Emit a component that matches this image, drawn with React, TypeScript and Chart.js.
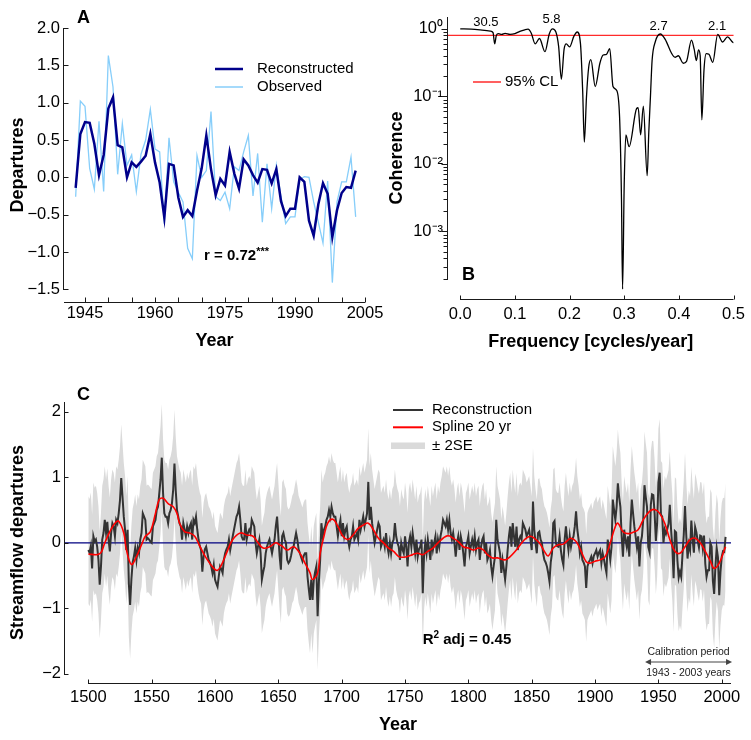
import React, { useEffect, useRef } from 'react';
import { Chart, registerables } from 'chart.js';

Chart.register(...registerables);

const FONT = '"Liberation Sans", Arial, Helvetica, sans-serif';
const AXIS_COLOR = '#1a1a1a';

// ---------------- Panel A: calibration period ----------------
const calibrationStart = 1943;
const calibrationEnd = 2003;
const reconstructed = [
  -0.14, 0.58, 0.74, 0.73, 0.45, 0.03, 0.30, 0.92, 1.07, 0.43,
  0.40, 0.00, 0.20, 0.14, 0.21, 0.29, 0.58, 0.20, -0.07, -0.54,
  0.18, 0.16, -0.27, -0.53, -0.44, -0.52, -0.18, 0.12, 0.56, 0.11,
  -0.24, -0.02, -0.11, 0.34, 0.05, -0.15, 0.24, 0.16, 0.03, -0.07,
  0.11, 0.10, -0.08, 0.11, -0.32, -0.52, -0.42, -0.42, 0.00, -0.06,
  -0.58, -0.78, -0.36, -0.08, -0.22, -0.80, -0.44, -0.21, -0.13, -0.14,
  0.09,
];
const observed = [
  -0.26, 1.02, 0.95, 0.12, -0.16, 0.75, -0.19, 1.63, 1.21, 0.04,
  0.72, 0.16, 0.30, -0.19, 0.31, 0.50, 0.91, 0.38, 0.34, -0.62,
  0.53, -0.06, -0.20, -0.33, -0.95, -1.09, 0.29, 0.00, 0.09, 0.88,
  -0.26, -0.31, -0.20, -0.42, 0.14, 0.09, 0.34, 0.56, -0.25, 0.32,
  -0.60, 0.18, -0.42, 0.16, -0.26, -0.62, -0.53, -0.53, -0.03, 0.01,
  0.00, -0.33, -0.60, -0.88, -0.05, -1.41, -0.33, -0.06, -0.06, 0.27,
  -0.53,
];
const yearTicksA = [1945, 1950, 1955, 1960, 1965, 1970, 1975, 1980, 1985, 1990, 1995, 2000, 2005];
const yearLabelsA = [1945, 1960, 1975, 1990, 2005];
const departureTicks = [-1.5, -1.0, -0.5, 0, 0.5, 1.0, 1.5, 2.0];

// ---------------- Panel B: coherence ----------------
const frequency = [
  0, 0.02, 0.04, 0.055, 0.06, 0.063, 0.066, 0.07, 0.076, 0.082,
  0.091, 0.1, 0.109, 0.118, 0.124, 0.13, 0.137, 0.145, 0.155, 0.163,
  0.169, 0.175, 0.18, 0.185, 0.19, 0.194, 0.2, 0.208, 0.214, 0.22,
  0.224, 0.227, 0.231, 0.235, 0.239, 0.247, 0.2555, 0.2615, 0.2675, 0.2735,
  0.2795, 0.2855, 0.2915, 0.295, 0.297, 0.3, 0.303, 0.309, 0.3226, 0.3255,
  0.33, 0.335, 0.342, 0.345, 0.348, 0.351, 0.357, 0.366, 0.375, 0.387,
  0.393, 0.399, 0.408, 0.414, 0.423, 0.428, 0.432, 0.436, 0.439, 0.442,
  0.446, 0.45, 0.455, 0.462, 0.471, 0.48, 0.489, 0.498, 0.5,
];
const coherence = [
  1.0, 0.99, 0.96, 0.93, 0.88, 0.60, 0.80, 0.85, 0.83, 0.86,
  0.83, 0.85, 0.92, 0.97, 0.99, 0.86, 0.60, 0.72, 0.46, 0.85,
  1.0, 0.90, 0.55, 0.18, 0.50, 0.60, 0.54, 0.78, 0.90, 0.60,
  0.12, 0.021, 0.10, 0.27, 0.35, 0.14, 0.31, 0.41, 0.42, 0.51,
  0.14, 0.125, 0.05, 0.003, 0.00014, 0.005, 0.027, 0.018, 0.066, 0.068,
  0.027, 0.072, 0.0067, 0.03, 0.10, 0.34, 0.65, 0.84, 0.70, 0.43,
  0.38, 0.40, 0.31, 0.33, 0.68, 0.50, 0.34, 0.49, 0.40, 0.045,
  0.25, 0.43, 0.42, 0.32, 0.83, 0.64, 0.76, 0.64, 0.62,
];
const confidence95 = 0.8;
const freqTicks = [0, 0.1, 0.2, 0.3, 0.4, 0.5];
const coherenceDecades = [-3, -2, -1, 0];
const coherenceLowestMinor = 2e-4;
const periodLabels = ['30.5', '5.8', '2.7', '2.1'];
const periodLabelFreq = [0.047, 0.167, 0.363, 0.47];
const periodLabelCoh = [1.26, 1.4, 1.1, 1.1];

// ---------------- Panel C: full reconstruction ----------------
const reconstructionStart = 1500;
const reconstructionEarly = [
  -0.11, -0.15, -0.05, -0.39, 0.10, 0.02, 0.05, -0.06, -0.26, -0.64,
  -0.36, 0.05, 0.15, 0.35, 0.15, 0.32, 0.05, -0.13, 0.15, 0.30,
  0.25, 0.10, 0.35, 0.30, 0.45, 0.65, 0.99, 0.70, 0.40, 0.20,
  -0.11, 0.20, -0.62, -0.95, -0.56, -0.30, -0.21, -0.08, -0.26, -0.08,
  -0.16, 0.05, 0.15, 0.45, 0.40, 0.35, 0.05, 0.07, 0.05, 0.02,
  0.00, 0.25, 0.30, 0.35, 0.50, 0.55, 0.75, 0.96, 1.30, 0.76,
  0.45, 0.40, 0.40, 0.30, 0.45, 0.50, 0.60, 0.81, 1.21, 0.80,
  0.50, 0.40, 0.30, 0.25, 0.05, 0.30, 0.20, 0.10, 0.25, 0.15,
  0.25, 0.30, 0.05, 0.35, 0.30, 0.40, 0.20, 0.05, -0.05, -0.11,
  -0.44, -0.21, -0.10, -0.06, -0.16, -0.26, -0.30, -0.36, -0.46, -0.34,
  -0.56, -0.62, -0.67, -0.51, -0.36, -0.40, -0.46, -0.26, -0.16, -0.10,
  -0.06, 0.05, -0.11, 0.00, 0.10, 0.20, 0.30, 0.40, 0.45, 0.55,
  0.35, 0.10, 0.05, 0.05, 0.30, 0.05, 0.15, 0.20, 0.15, 0.35,
  0.30, 0.25, 0.00, -0.16, -0.05, 0.05, -0.16, -0.56, -0.45, -0.36,
  -0.16, -0.06, 0.00, 0.05, -0.06, -0.16, -0.05, 0.05, 0.25, 0.40,
  0.10, -0.20, -0.41, 0.10, 0.15, 0.05, 0.00, -0.26, -0.31, -0.28,
  -0.20, -0.10, -0.06, 0.05, 0.15, 0.05, -0.10, -0.16, -0.22, -0.28,
  -0.20, -0.16, -0.16, -0.51, -0.70, -0.87, -0.56, -0.87, -0.56, -0.45,
  -0.36, -1.12, -0.60, -0.26, 0.30, 0.10, 0.20, 0.25, 0.35, 0.40,
  0.50, 0.40, 0.55, 0.45, 0.40, 0.40, 0.25, 0.10, 0.25, 0.35,
  0.10, 0.30, 0.10, 0.20, 0.25, 0.05, -0.06, 0.05, 0.10, 0.25,
  0.05, 0.10, 0.15, 0.05, 0.35, 0.20, 0.30, 0.40, 0.25, 0.35,
  0.45, 0.93, 0.35, 0.55, 0.30, 0.15, 0.00, 0.10, 0.20, 0.30,
  0.25, -0.06, 0.00, 0.05, -0.06, 0.15, -0.05, -0.16, 0.00, -0.16,
  0.00, 0.05, 0.30, 0.10, 0.00, -0.06, -0.26, 0.00, -0.10, -0.16,
  0.10, -0.06, -0.36, 0.00, 0.10, -0.06, 0.15, 0.00, -0.16, 0.05,
  -0.21, -0.10, -0.06, 0.05, -0.77, -0.20, 0.00, -0.16, 0.05, -0.10,
  -0.26, 0.05, -0.11, 0.00, 0.10, -0.16, 0.05, -0.06, 0.10, 0.20,
  0.35, 0.30, 0.25, 0.35, 0.20, 0.35, 0.15, 0.05, 0.15, 0.00,
  -0.21, 0.00, 0.10, -0.11, 0.10, 0.00, -0.16, -0.36, -0.06, 0.00,
  0.10, -0.16, -0.05, 0.05, -0.06, 0.10, -0.11, 0.00, 0.05, -0.26,
  -0.06, 0.05, 0.10, -0.16, 0.00, -0.26, -0.20, -0.11, -0.36, -0.51,
  -0.35, -0.21, 0.35, 0.05, -0.05, -0.16, -0.46, -0.26, -0.40, -0.56,
  -0.36, -0.11, 0.10, 0.25, -0.06, 0.30, 0.10, -0.06, 0.25, -0.11,
  0.05, 0.10, 0.05, 0.30, 0.25, 0.20, 0.10, 0.15, 0.20, 0.05,
  -0.11, 0.63, 0.20, 0.00, -0.16, 0.15, 0.17, 0.05, 0.00, -0.16,
  -0.26, -0.30, -0.36, -0.46, -0.59, -0.30, -0.16, 0.30, 0.33, 0.00,
  -0.05, -0.06, 0.10, -0.11, -0.25, -0.34, 0.05, 0.25, 0.05, -0.11,
  0.10, -0.06, 0.05, 0.10, 0.25, 0.48, 0.20, 0.05, -0.16, -0.06,
  -0.26, -0.30, -0.36, -0.69, -0.36, -0.30, -0.26, -0.21, -0.31, -0.20,
  -0.16, -0.11, -0.21, -0.15, -0.11, -0.31, -0.16, -0.25, -0.36, -0.46,
  0.05, -0.10, -0.26, -0.06, 0.66, 0.50, 0.35, 0.55, 0.91, 0.70,
  0.55, 0.10, -0.21, 0.20, 0.05, -0.06, 0.10, -0.21, 0.30, 0.66,
  0.45, 0.25, 0.10, -0.06, 0.10, -0.36, 0.00, 0.10, 0.35, 0.88,
  0.70, 0.55, -0.06,
];
const spline20Years = [
  1500, 1507, 1510, 1513, 1517, 1521, 1524, 1528, 1530, 1534,
  1538, 1542, 1545, 1549, 1553, 1556, 1559, 1563, 1567, 1570,
  1572, 1576, 1580, 1584, 1588, 1593, 1599, 1602, 1605, 1609,
  1614, 1620, 1625, 1630, 1634, 1638, 1643, 1648, 1651, 1653,
  1657, 1662, 1667, 1671, 1675, 1677, 1681, 1683, 1686, 1689,
  1693, 1697, 1701, 1705, 1709, 1713, 1717, 1721, 1725, 1729,
  1733, 1737, 1741, 1745, 1749, 1752, 1756, 1760, 1764, 1768,
  1772, 1776, 1780, 1784, 1788, 1792, 1796, 1800, 1804, 1808,
  1812, 1815, 1819, 1823, 1829, 1833, 1837, 1841, 1845, 1849,
  1852, 1856, 1860, 1863, 1867, 1871, 1875, 1879, 1881, 1885,
  1889, 1893, 1896, 1900, 1904, 1908, 1912, 1916, 1918, 1922,
  1926, 1930, 1934, 1938, 1943, 1947, 1951, 1955, 1959, 1963,
  1967, 1971, 1975, 1979, 1983, 1987, 1991, 1994, 1998, 2002,
  2003,
];
const spline20Values = [
  -0.17, -0.18, -0.15, 0.00, 0.17, 0.30, 0.33, 0.15, -0.10, -0.33,
  -0.21, -0.03, 0.10, 0.17, 0.45, 0.66, 0.68, 0.60, 0.55, 0.45,
  0.30, 0.17, 0.15, 0.10, -0.05, -0.23, -0.39, -0.42, -0.34, -0.16,
  0.05, 0.15, 0.12, 0.10, 0.00, -0.08, -0.06, 0.00, -0.03, -0.05,
  -0.11, -0.06, -0.16, -0.31, -0.46, -0.56, -0.46, -0.16, 0.10, 0.30,
  0.36, 0.25, 0.10, 0.05, 0.12, 0.22, 0.27, 0.30, 0.20, 0.07,
  0.00, -0.08, -0.13, -0.21, -0.22, -0.21, -0.18, -0.16, -0.18, -0.13,
  -0.08, 0.00, 0.07, 0.11, 0.07, 0.02, -0.06, -0.08, -0.11, -0.08,
  -0.11, -0.18, -0.23, -0.23, -0.26, -0.21, -0.13, -0.03, 0.06, 0.10,
  0.07, 0.00, -0.13, -0.20, -0.08, -0.03, -0.02, 0.05, 0.07, 0.02,
  -0.13, -0.29, -0.31, -0.28, -0.26, -0.21, 0.00, 0.25, 0.30, 0.17,
  0.14, 0.16, 0.20, 0.35, 0.48, 0.51, 0.45, 0.30, 0.05, -0.13,
  -0.16, -0.06, 0.05, 0.07, 0.00, -0.13, -0.28, -0.39, -0.31, -0.11,
  -0.06,
];
const twoSE = 0.82;
const yearTicksC = [1500, 1550, 1600, 1650, 1700, 1750, 1800, 1850, 1900, 1950, 2000];
const streamflowTicks = [-2, -1, 0, 1, 2];

// ---------------- helpers ----------------
const fnt = (size: number, bold = false) => `${bold ? 'bold ' : ''}${size}px ${FONT}`;
const minus = (s: string) => s.replace('-', '\u2212');
const SUP: Record<string, string> = { '0': '\u2070', '1': '\u00b9', '2': '\u00b2', '3': '\u00b3', '-': '\u207b' };
const supStr = (s: string) => s.split('').map((c) => SUP[c] ?? c).join('');

function drawText(ctx: CanvasRenderingContext2D, s: string, x: number, y: number, size: number,
  o: { bold?: boolean; align?: CanvasTextAlign; baseline?: CanvasTextBaseline; color?: string } = {}) {
  ctx.save();
  ctx.font = fnt(size, o.bold);
  ctx.fillStyle = o.color ?? '#000';
  ctx.textAlign = o.align ?? 'left';
  ctx.textBaseline = o.baseline ?? 'alphabetic';
  ctx.fillText(s, x, y);
  ctx.restore();
}

function drawRich(ctx: CanvasRenderingContext2D, x: number, y: number,
  segs: { t: string; size: number; dy?: number }[], bold: boolean) {
  ctx.save();
  ctx.fillStyle = '#000';
  ctx.textAlign = 'left';
  ctx.textBaseline = 'alphabetic';
  let cx = x;
  for (const s of segs) {
    ctx.font = fnt(s.size, bold);
    ctx.fillText(s.t, cx, y + (s.dy ?? 0));
    cx += ctx.measureText(s.t).width;
  }
  ctx.restore();
}

function legendLine(ctx: CanvasRenderingContext2D, x1: number, x2: number, y: number, color: string, w: number) {
  ctx.save();
  ctx.strokeStyle = color;
  ctx.lineWidth = w;
  ctx.beginPath();
  ctx.moveTo(x1, y);
  ctx.lineTo(x2, y);
  ctx.stroke();
  ctx.restore();
}

function drawAxes(chart: any, o: { xFromTick: boolean; xTick: number; yTick: number; yMinorTick?: number }) {
  const { ctx, chartArea: ca } = chart;
  const xs = chart.scales.x;
  const ys = chart.scales.y;
  ctx.save();
  ctx.strokeStyle = AXIS_COLOR;
  ctx.lineWidth = 1;
  ctx.beginPath();
  const yb = Math.round(ca.bottom) + 0.5;
  const xp: number[] = xs.ticks.map((t: any) => xs.getPixelForValue(t.value));
  ctx.moveTo(o.xFromTick ? Math.round(xp[0]) : ca.left, yb);
  ctx.lineTo(ca.right, yb);
  xp.forEach((p) => {
    const px = Math.round(p) + 0.5;
    ctx.moveTo(px, yb);
    ctx.lineTo(px, yb - o.xTick);
  });
  const xl = Math.round(ca.left) - 0.5;
  const yp = ys.ticks.map((t: any) => ({ p: ys.getPixelForValue(t.value), major: t.major !== false }));
  const lowest = Math.max(...yp.map((t: any) => t.p));
  ctx.moveTo(xl, ca.top);
  ctx.lineTo(xl, Math.round(lowest) + 1);
  yp.forEach((t: any) => {
    const py = Math.round(t.p) + 0.5;
    const len = t.major ? o.yTick : (o.yMinorTick ?? o.yTick);
    ctx.moveTo(xl, py);
    ctx.lineTo(xl + len, py);
  });
  ctx.stroke();
  ctx.restore();
}

const tickFont = { family: FONT, size: 16.5 };
const titleFont = { family: FONT, size: 18, weight: 'bold' as const };
const noGrid = { display: false, drawTicks: false };

// ---------------- charts ----------------
function makeA(canvas: HTMLCanvasElement) {
  const recPts = reconstructed.map((v, i) => ({ x: calibrationStart + i, y: v }));
  const obsPts = observed.map((v, i) => ({ x: calibrationStart + i, y: v }));
  return new Chart(canvas, {
    type: 'line',
    data: {
      datasets: [
        { label: 'Reconstructed', data: recPts, borderColor: '#00008B', borderWidth: 2.5, pointRadius: 0, tension: 0, fill: false },
        { label: 'Observed', data: obsPts, borderColor: '#87CEFA', borderWidth: 1.3, pointRadius: 0, tension: 0, fill: false },
      ],
    },
    options: {
      animation: false,
      responsive: false,
      devicePixelRatio: 1,
      layout: { padding: { left: 0, right: 35, top: 28, bottom: 0 } },
      plugins: { legend: { display: false }, tooltip: { enabled: false } },
      scales: {
        x: {
          type: 'linear', min: 1940.5, max: 2005,
          grid: noGrid, border: { display: false },
          afterBuildTicks: (s: any) => { s.ticks = yearTicksA.map((v) => ({ value: v })); },
          afterFit: (s: any) => { s.height = 58; },
          ticks: { autoSkip: false, maxRotation: 0, minRotation: 0, padding: 2, color: '#000', font: tickFont,
            callback: (v: any) => (yearLabelsA.includes(Number(v)) ? String(v) : '') },
          title: { display: true, text: 'Year', color: '#000', font: titleFont, padding: { top: 0, bottom: 8 } },
        },
        y: {
          type: 'linear', min: -1.67, max: 2.0,
          grid: noGrid, border: { display: false },
          afterBuildTicks: (s: any) => { s.ticks = departureTicks.map((v) => ({ value: v })); },
          afterFit: (s: any) => { s.width = 64; },
          ticks: { autoSkip: false, padding: 4, color: '#000', font: tickFont,
            callback: (v: any) => minus(Number(v).toFixed(1)) },
          title: { display: true, text: 'Departures', color: '#000', font: titleFont, padding: { top: 7.7, bottom: 0 } },
        },
      },
    } as any,
    plugins: [{
      id: 'panelA',
      afterDraw(chart: any) {
        const ctx = chart.ctx;
        drawAxes(chart, { xFromTick: false, xTick: 5, yTick: 5 });
        drawText(ctx, 'A', 77, 23, 18, { bold: true });
        legendLine(ctx, 215, 243, 69, '#00008B', 2.5);
        legendLine(ctx, 215, 243, 87, '#87CEFA', 1.5);
        drawText(ctx, 'Reconstructed', 257, 69, 15, { baseline: 'middle' });
        drawText(ctx, 'Observed', 257, 87, 15, { baseline: 'middle' });
        drawRich(ctx, 204, 259.5, [{ t: 'r = 0.72', size: 15 }, { t: '***', size: 11, dy: -5 }], true);
      },
    }],
  });
}

function makeB(canvas: HTMLCanvasElement) {
  const pts = frequency.map((f, i) => ({ x: f, y: coherence[i] }));
  return new Chart(canvas, {
    type: 'line',
    data: {
      datasets: [
        { label: 'Coherence', data: pts, borderColor: '#000', borderWidth: 1.3, pointRadius: 0, cubicInterpolationMode: 'monotone', fill: false },
      ],
    },
    options: {
      animation: false,
      responsive: false,
      devicePixelRatio: 1,
      layout: { padding: { left: 0, right: 12, top: 17, bottom: 0 } },
      plugins: { legend: { display: false }, tooltip: { enabled: false } },
      scales: {
        x: {
          type: 'linear', min: -0.0224, max: 0.5,
          grid: noGrid, border: { display: false },
          afterBuildTicks: (s: any) => { s.ticks = freqTicks.map((v) => ({ value: v })); },
          afterFit: (s: any) => { s.height = 61; },
          ticks: { autoSkip: false, maxRotation: 0, minRotation: 0, padding: 6, color: '#000', font: tickFont,
            callback: (v: any) => Number(v).toFixed(1) },
          title: { display: true, text: 'Frequency [cycles/year]', color: '#000', font: titleFont, padding: { top: 0, bottom: 7.2 } },
        },
        y: {
          type: 'logarithmic', min: 1e-4, max: 1.5,
          grid: noGrid, border: { display: false },
          afterBuildTicks: (s: any) => {
            const t: any[] = [];
            for (const e of [coherenceDecades[0] - 1, ...coherenceDecades]) {
              for (let m = 1; m <= 9; m++) {
                const v = m * Math.pow(10, e);
                if (v >= coherenceLowestMinor * 0.999 && v <= 1.0001) t.push({ value: v, major: m === 1 });
              }
            }
            s.ticks = t;
          },
          afterFit: (s: any) => { s.width = 73; },
          ticks: { autoSkip: false, padding: 5, color: '#000', font: tickFont,
            callback: (v: any) => {
              const e = Math.log10(Number(v));
              const r = Math.round(e);
              if (Math.abs(e - r) < 1e-6 && coherenceDecades.includes(r)) return '10' + supStr(String(r));
              return '';
            } },
          title: { display: true, text: 'Coherence', color: '#000', font: titleFont, padding: { top: 11.7, bottom: 0 } },
        },
      },
    } as any,
    plugins: [{
      id: 'panelB',
      beforeDatasetsDraw(chart: any) {
        const { ctx, chartArea: ca } = chart;
        const y = chart.scales.y.getPixelForValue(confidence95);
        legendLine(ctx, ca.left, ca.right, y, '#FF2B2B', 1.3);
      },
      afterDraw(chart: any) {
        const ctx = chart.ctx;
        const xs = chart.scales.x;
        const ys = chart.scales.y;
        drawAxes(chart, { xFromTick: true, xTick: 4, yTick: -6, yMinorTick: -4 });
        drawText(ctx, 'B', 87, 280, 18, { bold: true });
        legendLine(ctx, 98, 126, 82, '#FF2B2B', 1.5);
        drawText(ctx, '95% CL', 130, 82, 15, { baseline: 'middle' });
        periodLabels.forEach((lab, i) => {
          drawText(ctx, lab, xs.getPixelForValue(periodLabelFreq[i]), ys.getPixelForValue(periodLabelCoh[i]), 13,
            { align: 'center', baseline: 'middle' });
        });
      },
    }],
  });
}

function makeC(canvas: HTMLCanvasElement) {
  const reconstruction = [...reconstructionEarly, ...reconstructed];
  const recPts = reconstruction.map((v, i) => ({ x: reconstructionStart + i, y: v }));
  const upPts = reconstruction.map((v, i) => ({ x: reconstructionStart + i, y: v + twoSE }));
  const loPts = reconstruction.map((v, i) => ({ x: reconstructionStart + i, y: v - twoSE }));
  const splPts = spline20Years.map((yr, i) => ({ x: yr, y: spline20Values[i] }));
  const transparent = 'rgba(0,0,0,0)';
  return new Chart(canvas, {
    type: 'line',
    data: {
      datasets: [
        { label: 'Spline 20 yr', data: splPts, borderColor: '#FF0000', borderWidth: 1.6, pointRadius: 0, tension: 0.4, fill: false },
        { label: 'Reconstruction', data: recPts, borderColor: '#333333', borderWidth: 2, pointRadius: 0, tension: 0, fill: false },
        { label: '± 2SE', data: upPts, borderColor: transparent, borderWidth: 1, pointRadius: 0, tension: 0, fill: '+1', backgroundColor: '#DADADA' },
        { label: '± 2SE lower', data: loPts, borderColor: transparent, borderWidth: 1, pointRadius: 0, tension: 0, fill: false },
      ],
    },
    options: {
      animation: false,
      responsive: false,
      devicePixelRatio: 1,
      layout: { padding: { left: 0, right: 20, top: 32, bottom: 0 } },
      plugins: { legend: { display: false }, tooltip: { enabled: false } },
      scales: {
        x: {
          type: 'linear', min: 1481.6, max: 2007.3,
          grid: noGrid, border: { display: false },
          afterBuildTicks: (s: any) => { s.ticks = yearTicksC.map((v) => ({ value: v })); },
          afterFit: (s: any) => { s.height = 57; },
          ticks: { autoSkip: false, maxRotation: 0, minRotation: 0, padding: 5, color: '#000', font: tickFont,
            callback: (v: any) => String(v) },
          title: { display: true, text: 'Year', color: '#000', font: titleFont, padding: { top: 0, bottom: 4.2 } },
        },
        y: {
          type: 'linear', min: -2.14, max: 2.15,
          grid: noGrid, border: { display: false },
          afterBuildTicks: (s: any) => { s.ticks = streamflowTicks.map((v) => ({ value: v })); },
          afterFit: (s: any) => { s.width = 65; },
          ticks: { autoSkip: false, padding: 4, color: '#000', font: tickFont,
            callback: (v: any) => minus(String(v)) },
          title: { display: true, text: 'Streamflow departures', color: '#000', font: titleFont, padding: { top: 7.7, bottom: 0 } },
        },
      },
    } as any,
    plugins: [{
      id: 'panelC',
      beforeDatasetDraw(chart: any, args: any) {
        if (args.index !== 1) return;
        const { ctx, chartArea: ca } = chart;
        const y = chart.scales.y.getPixelForValue(0);
        legendLine(ctx, ca.left, ca.right, y, '#000080', 1.2);
      },
      afterDraw(chart: any) {
        const ctx = chart.ctx;
        const xs = chart.scales.x;
        drawAxes(chart, { xFromTick: true, xTick: 4, yTick: 4 });
        drawText(ctx, 'C', 77, 30, 18, { bold: true });
        // legend
        legendLine(ctx, 393, 423, 40, '#333333', 2);
        drawText(ctx, 'Reconstruction', 432, 40, 15, { baseline: 'middle' });
        legendLine(ctx, 393, 423, 57.3, '#FF0000', 2);
        drawText(ctx, 'Spline 20 yr', 432, 57.3, 15, { baseline: 'middle' });
        ctx.save();
        ctx.fillStyle = '#DADADA';
        ctx.fillRect(391, 72.5, 34, 6.5);
        ctx.restore();
        drawText(ctx, '± 2SE', 432, 75.7, 15, { baseline: 'middle' });
        // R2
        drawRich(ctx, 422.7, 273.7, [{ t: 'R', size: 15 }, { t: '2', size: 10, dy: -6 }, { t: ' adj = 0.45', size: 15 }], true);
        // calibration period arrow
        const x1 = xs.getPixelForValue(calibrationStart) - 4.5;
        const x2 = xs.getPixelForValue(calibrationEnd) + 6.5;
        const xm = (x1 + x2) / 2;
        drawText(ctx, 'Calibration period', xm, 282, 10.5, { align: 'center', baseline: 'middle', color: '#222' });
        drawText(ctx, `${calibrationStart} - ${calibrationEnd} years`, xm, 302.7, 10.5, { align: 'center', baseline: 'middle', color: '#222' });
        ctx.save();
        ctx.strokeStyle = '#444';
        ctx.fillStyle = '#444';
        ctx.lineWidth = 1.2;
        const ya = 292;
        ctx.beginPath();
        ctx.moveTo(x1 + 4, ya);
        ctx.lineTo(x2 - 4, ya);
        ctx.stroke();
        ctx.beginPath();
        ctx.moveTo(x1, ya); ctx.lineTo(x1 + 6, ya - 3); ctx.lineTo(x1 + 6, ya + 3); ctx.closePath();
        ctx.moveTo(x2, ya); ctx.lineTo(x2 - 6, ya - 3); ctx.lineTo(x2 - 6, ya + 3); ctx.closePath();
        ctx.fill();
        ctx.restore();
      },
    }],
  });
}

export default function App() {
  const aRef = useRef<HTMLCanvasElement>(null);
  const bRef = useRef<HTMLCanvasElement>(null);
  const cRef = useRef<HTMLCanvasElement>(null);

  useEffect(() => {
    const charts = [makeA(aRef.current!), makeB(bRef.current!), makeC(cRef.current!)];
    return () => charts.forEach((c) => c.destroy());
  }, []);

  return (
    <div style={{ position: 'absolute', left: 0, top: 0, width: 751, height: 740, background: '#fff', overflow: 'hidden' }}>
      <canvas ref={aRef} width={400} height={360} style={{ position: 'absolute', left: 0, top: 0 }} />
      <canvas ref={bRef} width={376} height={360} style={{ position: 'absolute', left: 375, top: 0 }} />
      <canvas ref={cRef} width={751} height={370} style={{ position: 'absolute', left: 0, top: 370 }} />
    </div>
  );
}
